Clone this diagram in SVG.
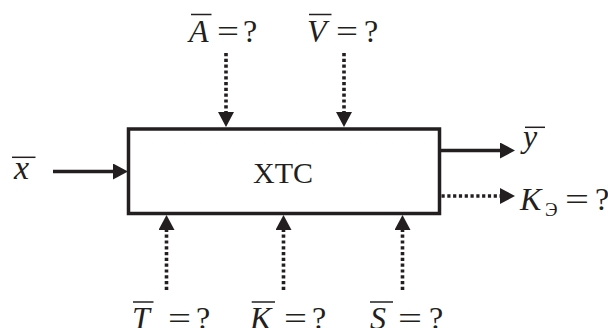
<svg xmlns="http://www.w3.org/2000/svg" width="608" height="328" viewBox="0 0 608 328">
  <style>
    .box { fill: #fff; stroke: #231f20; stroke-width: 3.5; }
    .solid { fill: none; stroke: #231f20; stroke-width: 3.5; }
    .dot { fill: none; stroke: #231f20; stroke-width: 3.6; stroke-dasharray: 3.2 2.6; }
    .t { font-family: "Liberation Serif", "Times New Roman", serif; font-size: 32px; fill: #231f20; }
    .it { font-style: italic; }
    .sub { font-size: 19px; }
    .name { font-size: 30px; }
    .big { font-size: 34px; }
    .bar { stroke: #231f20; stroke-width: 1.5; }
  </style>
  <defs>
    <marker id="ah" viewBox="0 0 15 16" markerWidth="15" markerHeight="16" refX="0" refY="8" orient="auto" markerUnits="userSpaceOnUse">
      <path d="M0,0 L15,8 L0,16 Z" fill="#231f20"/>
    </marker>
  </defs>

  <g id="connectors">
    <line class="solid" x1="53" y1="171.5" x2="113" y2="171.5" marker-end="url(#ah)"/>
    <line class="solid" x1="441" y1="150.5" x2="500" y2="150.5" marker-end="url(#ah)"/>
    <line class="dot" x1="441.5" y1="196" x2="500" y2="196" marker-end="url(#ah)"/>
    <line class="dot" x1="226" y1="53" x2="226" y2="112" marker-end="url(#ah)"/>
    <line class="dot" x1="344" y1="53" x2="344" y2="112" marker-end="url(#ah)"/>
    <line class="dot" x1="166.5" y1="290" x2="166.5" y2="230" marker-end="url(#ah)"/>
    <line class="dot" x1="283.5" y1="290" x2="283.5" y2="230" marker-end="url(#ah)"/>
    <line class="dot" x1="402.5" y1="290" x2="402.5" y2="230" marker-end="url(#ah)"/>
  </g>

  <g id="hts">
    <rect class="box" x="128.5" y="129" width="311" height="84.5"/>
    <text class="t name" x="283" y="183" text-anchor="middle">ХТС</text>
  </g>

  <g id="in-x">
    <line class="bar" x1="12" y1="157.3" x2="35.5" y2="157.3"/>
    <text class="t it big" x="14" y="179">x</text>
  </g>

  <g id="out-y">
    <line class="bar" x1="525" y1="127.3" x2="545" y2="127.3"/>
    <text class="t it" x="523" y="147">y</text>
  </g>

  <g id="out-ke">
    <text class="t it" x="520" y="209.5">K</text>
    <text class="t sub" x="545" y="216">Э</text>
    <text class="t" x="565" y="209.5" textLength="24" lengthAdjust="spacingAndGlyphs">=</text>
    <text class="t" x="595" y="209.5">?</text>
  </g>

  <g id="in-a">
    <line class="bar" x1="191" y1="14.5" x2="211.5" y2="14.5"/>
    <text class="t it" x="189" y="41.5">A</text>
    <text class="t" x="217" y="41.5" textLength="22" lengthAdjust="spacingAndGlyphs">=</text>
    <text class="t" x="243" y="41.5">?</text>
  </g>

  <g id="in-v">
    <line class="bar" x1="309" y1="14.5" x2="331.5" y2="14.5"/>
    <text class="t it" x="307" y="41.5">V</text>
    <text class="t" x="336" y="41.5" textLength="22" lengthAdjust="spacingAndGlyphs">=</text>
    <text class="t" x="364" y="41.5">?</text>
  </g>

  <g id="in-t">
    <line class="bar" x1="133" y1="302" x2="153.5" y2="302"/>
    <text class="t it" x="132" y="329">T</text>
    <text class="t" x="168" y="329" textLength="23" lengthAdjust="spacingAndGlyphs">=</text>
    <text class="t" x="196" y="329">?</text>
  </g>

  <g id="in-k">
    <line class="bar" x1="251.7" y1="302" x2="275" y2="302"/>
    <text class="t it" x="250" y="329">K</text>
    <text class="t" x="284" y="329" textLength="23" lengthAdjust="spacingAndGlyphs">=</text>
    <text class="t" x="312" y="329">?</text>
  </g>

  <g id="in-s">
    <line class="bar" x1="370" y1="302" x2="393" y2="302"/>
    <text class="t it" x="370" y="329">S</text>
    <text class="t" x="398" y="329" textLength="24" lengthAdjust="spacingAndGlyphs">=</text>
    <text class="t" x="429" y="329">?</text>
  </g>
</svg>
